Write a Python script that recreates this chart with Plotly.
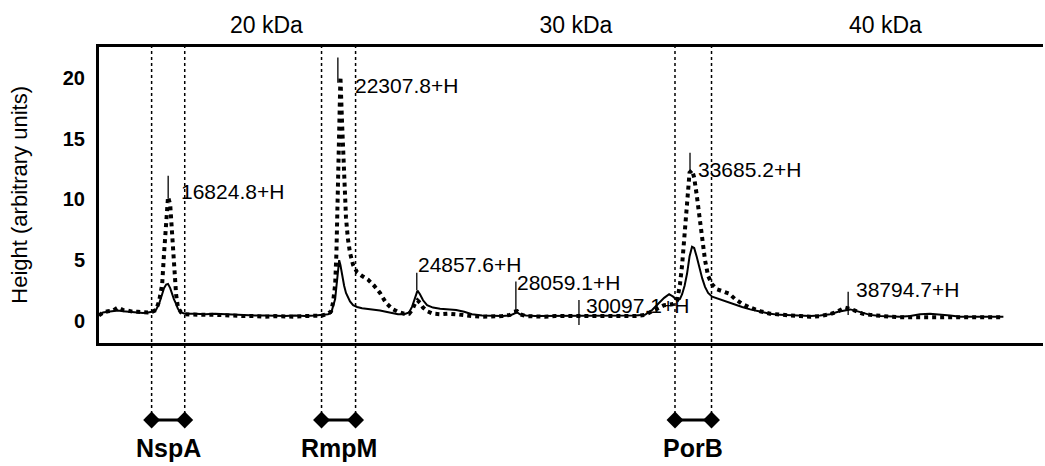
import plotly.graph_objects as go

# ---------------- data ----------------
mass_kda = [14.59, 14.72, 14.88, 15.04, 15.20, 15.37, 15.53, 15.69, 15.85, 16.01,
            16.17, 16.31, 16.43, 16.53, 16.63, 16.69, 16.76, 16.82, 16.89, 16.95,
            17.01, 17.08, 17.14, 17.24, 17.37, 17.69, 18.02, 18.34, 18.66, 18.99,
            19.31, 19.63, 19.95, 20.28, 20.60, 20.92, 21.25, 21.57, 21.80, 21.99,
            22.09, 22.15, 22.22, 22.26, 22.31, 22.35, 22.39, 22.44, 22.51, 22.57,
            22.63, 22.70, 22.80, 22.93, 23.09, 23.28, 23.48, 23.67, 23.86, 24.06,
            24.25, 24.45, 24.61, 24.71, 24.81, 24.88, 24.96, 25.06, 25.19, 25.38,
            25.61, 25.87, 26.13, 26.39, 26.64, 26.97, 27.29, 27.61, 27.87, 28.00,
            28.10, 28.19, 28.39, 28.68, 29.00, 29.33, 29.65, 29.97, 30.30, 30.62,
            30.94, 31.26, 31.59, 31.91, 32.23, 32.46, 32.65, 32.85, 33.01, 33.14,
            33.27, 33.36, 33.43, 33.51, 33.59, 33.67, 33.75, 33.82, 33.90, 33.98,
            34.08, 34.17, 34.27, 34.40, 34.56, 34.76, 34.95, 35.14, 35.37, 35.63,
            35.95, 36.27, 36.59, 36.92, 37.24, 37.57, 37.89, 38.21, 38.47, 38.70,
            38.86, 39.02, 39.25, 39.50, 39.83, 40.15, 40.47, 40.80, 41.12, 41.44,
            41.76, 42.09, 42.41, 42.73, 43.06, 43.38, 43.81]

height_solid = [0.45, 0.70, 0.75, 0.80, 0.85, 0.80, 0.75, 0.70, 0.70, 0.65,
                0.70, 0.75, 0.90, 1.40, 2.20, 2.70, 3.00, 3.05, 2.70, 2.20,
                1.80, 1.40, 1.00, 0.70, 0.60, 0.60, 0.55, 0.60, 0.55, 0.50,
                0.50, 0.45, 0.45, 0.40, 0.40, 0.45, 0.40, 0.45, 0.50, 0.55,
                0.65, 1.10, 1.80, 2.80, 4.20, 5.00, 4.60, 3.80, 2.90, 2.30,
                1.90, 1.60, 1.30, 1.15, 1.05, 1.00, 0.95, 0.85, 0.75, 0.65,
                0.55, 0.55, 0.70, 1.20, 2.00, 2.50, 2.20, 1.70, 1.30, 1.10,
                1.00, 0.95, 0.90, 0.75, 0.55, 0.45, 0.40, 0.40, 0.45, 0.60,
                0.70, 0.55, 0.45, 0.40, 0.40, 0.45, 0.45, 0.45, 0.45, 0.45,
                0.45, 0.40, 0.45, 0.45, 0.50, 0.90, 1.40, 1.90, 2.20, 2.00,
                1.70, 1.80, 2.20, 2.90, 3.90, 5.30, 6.10, 6.00, 5.30, 4.40,
                3.50, 2.80, 2.30, 2.00, 1.85, 1.70, 1.55, 1.35, 1.15, 0.95,
                0.75, 0.60, 0.50, 0.45, 0.40, 0.40, 0.45, 0.55, 0.75, 0.90,
                0.95, 0.85, 0.70, 0.50, 0.40, 0.35, 0.35, 0.40, 0.55, 0.60,
                0.55, 0.45, 0.35, 0.35, 0.35, 0.35, 0.35]

height_dotted = [0.45, 0.70, 0.80, 0.85, 1.10, 0.90, 0.85, 0.75, 0.75, 0.70,
                 0.70, 0.75, 0.90, 1.60, 3.00, 5.50, 8.50, 10.20, 9.60, 7.00,
                 4.20, 2.20, 1.10, 0.70, 0.55, 0.50, 0.50, 0.50, 0.45, 0.45,
                 0.40, 0.40, 0.35, 0.40, 0.35, 0.35, 0.40, 0.40, 0.45, 0.60,
                 0.80, 1.50, 3.00, 5.50, 11.00, 17.00, 20.10, 16.50, 11.50, 8.50,
                 6.80, 5.60, 4.60, 4.00, 3.70, 3.40, 2.90, 2.30, 1.50, 1.00,
                 0.75, 0.60, 0.60, 0.90, 1.50, 1.70, 1.50, 1.10, 0.80, 0.60,
                 0.55, 0.60, 0.55, 0.45, 0.40, 0.35, 0.35, 0.40, 0.50, 0.75,
                 0.80, 0.55, 0.40, 0.35, 0.35, 0.40, 0.40, 0.45, 0.40, 0.40,
                 0.45, 0.40, 0.45, 0.40, 0.50, 0.80, 1.10, 1.30, 1.35, 1.40,
                 1.70, 3.00, 4.60, 7.00, 10.00, 12.20, 12.40, 11.80, 10.40, 8.80,
                 6.80, 5.00, 3.70, 3.00, 2.60, 2.40, 2.25, 1.80, 1.40, 1.10,
                 0.80, 0.60, 0.50, 0.45, 0.40, 0.35, 0.40, 0.55, 0.80, 1.10,
                 1.00, 0.85, 0.60, 0.50, 0.40, 0.35, 0.30, 0.30, 0.30, 0.35,
                 0.30, 0.30, 0.30, 0.30, 0.30, 0.30, 0.30]

peak_mass = [16.8248, 22.3078, 24.8576, 28.0591, 30.0971, 33.6852, 38.7947]
peak_text = ["16824.8+H", "22307.8+H", "24857.6+H", "28059.1+H",
             "30097.1+H", "33685.2+H", "38794.7+H"]
peak_tick_low = [10.05, 19.60, 2.55, 0.77, -0.33, 12.30, 0.49]
peak_tick_high = [11.95, 21.67, 3.96, 3.24, 1.73, 13.84, 2.41]

protein_names = ["NspA", "RmpM", "PorB"]
protein_low = [16.29, 21.78, 33.20]
protein_high = [17.36, 22.88, 34.38]

top_tick_vals = [20, 30, 40]
top_tick_text = ["20 kDa", "30 kDa", "40 kDa"]
y_tick_vals = [0, 5, 10, 15, 20]

# ---------------- layout helpers ----------------
W, H = 1045, 466
M_T, M_B, M_L, M_R = 47, 0, 99, 2
PH = H - M_T - M_B


def pap(py):
    return (H - M_B - py) / PH


FONT = "Liberation Sans, Arial, Helvetica, sans-serif"
label_y = [10.63, 19.37, 4.61, 3.13, 1.24, 12.44, 2.55]
label_shift = [11, 15, -1, -1, 5, 6, 6]

fig = go.Figure()

fig.add_trace(go.Scatter(x=mass_kda, y=height_solid, mode="lines",
                         line=dict(color="black", width=2),
                         showlegend=False, hoverinfo="skip"))
fig.add_trace(go.Scatter(x=mass_kda, y=height_dotted, mode="lines",
                         line=dict(color="black", width=4, dash="dot"),
                         showlegend=False, hoverinfo="skip"))

tx, ty = [], []
for m, lo, hi in zip(peak_mass, peak_tick_low, peak_tick_high):
    tx += [m, m, None]
    ty += [lo, hi, None]
fig.add_trace(go.Scatter(x=tx, y=ty, mode="lines",
                         line=dict(color="black", width=1.3),
                         showlegend=False, hoverinfo="skip"))

annotations = []
for m, t, yy, sh in zip(peak_mass, peak_text, label_y, label_shift):
    annotations.append(dict(x=m, y=yy, xref="x", yref="y", text=t,
                            showarrow=False, xanchor="left", yanchor="middle",
                            xshift=sh, font=dict(family=FONT, size=21, color="black")))

diamond_y = pap(420)
shapes = []
for name, lo, hi in zip(protein_names, protein_low, protein_high):
    fig.add_trace(go.Scatter(x=[lo, hi], y=[diamond_y, diamond_y],
                             mode="lines+markers", xaxis="x", yaxis="y2",
                             line=dict(color="black", width=3),
                             marker=dict(symbol="diamond", size=13, color="black"),
                             showlegend=False, hoverinfo="skip", cliponaxis=False))
    for xv in (lo, hi):
        shapes.append(dict(type="line", xref="x", yref="paper", x0=xv, x1=xv,
                           y0=diamond_y, y1=1.0,
                           line=dict(color="black", width=1.5, dash="dot")))
    annotations.append(dict(x=(lo + hi) / 2, y=pap(448), xref="x", yref="paper",
                            text=name, showarrow=False, xanchor="center",
                            yanchor="middle",
                            font=dict(family=FONT, size=25, color="black", weight="bold")))

fig.update_layout(
    width=W, height=H,
    margin=dict(l=M_L, r=M_R, t=M_T, b=M_B, pad=0),
    paper_bgcolor="white", plot_bgcolor="white",
    font=dict(family=FONT, color="black"),
    xaxis=dict(domain=[0, 1], range=[14.59, 45.09], side="top", anchor="y",
               tickvals=top_tick_vals, ticktext=top_tick_text, ticks="",
               ticklabelstandoff=2,
               tickfont=dict(size=23, family=FONT, color="black"),
               showgrid=False, zeroline=False, showline=True, mirror=True,
               linecolor="black", linewidth=3),
    yaxis=dict(domain=[pap(342.7), 1], range=[-1.79, 22.54], anchor="x",
               tickvals=y_tick_vals, ticks="", ticklabelstandoff=7,
               tickfont=dict(size=20, family=FONT, color="black", weight="bold"),
               showgrid=False, zeroline=False, showline=True, linecolor="black",
               linewidth=3,
               title=dict(text="Height (arbitrary units)", standoff=30,
                          font=dict(size=22, family=FONT, color="black"))),
    yaxis2=dict(domain=[0, 0.25], range=[0, 0.25], anchor="x", visible=False,
                showgrid=False, zeroline=False),
    annotations=annotations,
    shapes=shapes,
)

fig.write_html("out.html")
